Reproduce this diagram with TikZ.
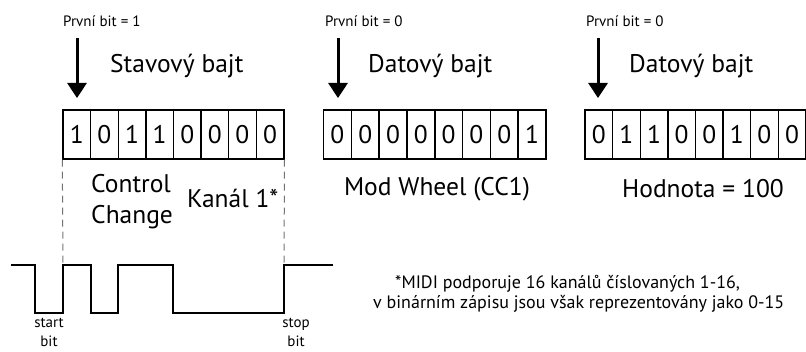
\documentclass[tikz,border=0pt]{standalone}
\usepackage{fontspec}
\setmainfont{PT Sans}
\usetikzlibrary{arrows.meta}
\begin{document}
\begin{tikzpicture}[x=1pt,y=-1pt,
  cell/.style={draw,line width=1.4pt,minimum width=27.6pt,minimum height=49pt,inner sep=0pt,font=\fontsize{25.5}{25.5}\selectfont},
  big/.style={inner sep=0pt,font=\fontsize{25.5}{31}\selectfont},
  small/.style={inner sep=0pt,font=\fontsize{15}{19}\selectfont},
  note/.style={inner sep=0pt,font=\fontsize{18}{20}\selectfont},
  firstarrow/.style={line width=3pt,-{Triangle[width=19pt,length=15pt]}},
  guide/.style={black!55,line width=1pt,dash pattern=on 7pt off 5pt},
  signal/.style={line width=1.3pt}]
\useasboundingbox (0,0) rectangle (806,352);
% labels above
\node[small,anchor=base west] (p1) at (63,27) {První bit = 1};
\node[small,anchor=base west] (p2) at (325,27) {První bit = 0};
\node[small,anchor=base west] (p3) at (586,27) {První bit = 0};
\coordinate (t1) at (77,38); \coordinate (h1) at (77,98);
\coordinate (t2) at (338,38); \coordinate (h2) at (338,98);
\coordinate (t3) at (598,38); \coordinate (h3) at (598,98);
\draw[firstarrow] (t1) -- (h1);
\draw[firstarrow] (t2) -- (h2);
\draw[firstarrow] (t3) -- (h3);
\node[big,anchor=base west] (s1) at (110,73) {Stavový bajt};
\node[big,anchor=base west] (s2) at (368,73) {Datový bajt};
\node[big,anchor=base west] (s3) at (629,73) {Datový bajt};
% bytes
\foreach \b [count=\i] in {1,0,1,1,0,0,0,0}
  \node[cell] (a\i) at ({63+27.6*(\i-0.5)},134.5) {\b};
\foreach \b [count=\i] in {0,0,0,0,0,0,0,1}
  \node[cell] (b\i) at ({323.5+27.8*(\i-0.5)},134.5) {\b};
\foreach \b [count=\i] in {0,1,1,0,0,1,0,0}
  \node[cell] (c\i) at ({585+27.6*(\i-0.5)},134.5) {\b};
% captions
\node[big,anchor=base west,align=left] (cc) at (91,224) {Control\\Change};
\node[big,anchor=base west] (ch) at (187,208) {Kanál 1*};
\node[big] (mw) at (437,189) {Mod Wheel (CC1)};
\node[big] (hv) at (703,189) {Hodnota = 100};
% signal
\coordinate (g1) at (63,265);
\coordinate (g2) at (284,265);
\draw[guide] (a1.south west) -- (g1);
\draw[guide] (a8.south east) -- (g2);
\draw[signal] (11,265) -- (35,265) -- (35,313) -- (63,313) -- (g1) -- (91,265) -- (91,313)
  -- (118,313) -- (118,265) -- (173,265) -- (173,313) -- (284,313) -- (g2) -- (333,265);
\node[small,anchor=base,align=center] (sb) at (49,347) {start\\bit};
\node[small,anchor=base,align=center] (pb) at (296,347) {stop\\bit};
% footnote
\node[note,anchor=base west] (n1) at (395,289) {*MIDI podporuje 16 kanálů číslovaných 1-16,};
\node[note,anchor=base west] (n2) at (373,309) {v binárním zápisu jsou však reprezentovány jako 0-15};
\end{tikzpicture}
\end{document}
